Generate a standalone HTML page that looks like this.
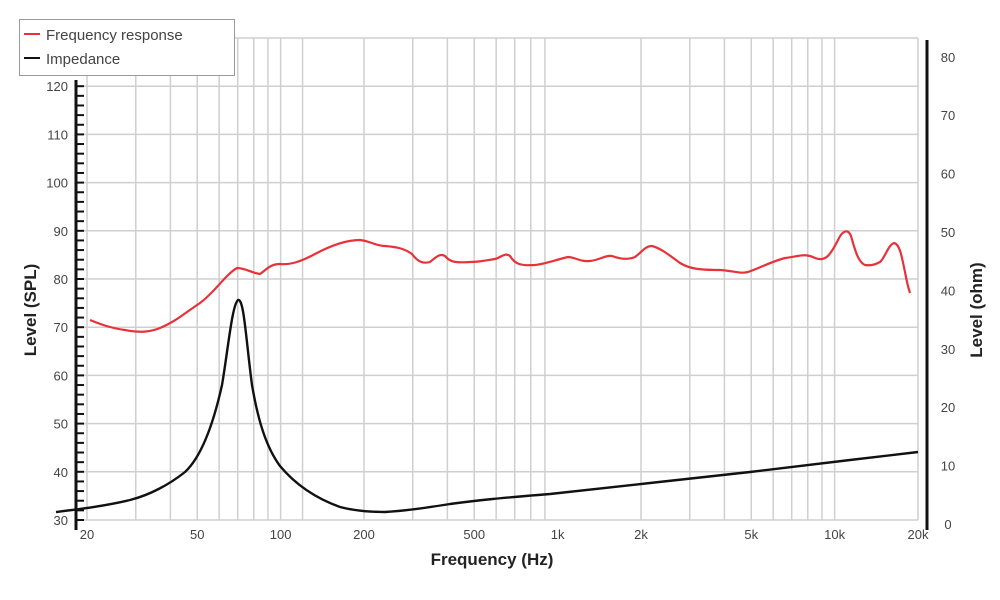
<!DOCTYPE html>
<html><head><style>body{margin:0;background:#fff}svg{display:block}</style></head><body>
<svg width="1000" height="600" xmlns="http://www.w3.org/2000/svg" font-family="Liberation Sans, sans-serif">
<g stroke="#cfcfcf" stroke-width="1.5" id="grid"></g>
<g id="axes"></g>
<path fill="none" stroke="#e8323a" stroke-width="2.2" stroke-linejoin="round" d="M90,320 C100,324 110,328 125,330 C140,333 150,332 160,328 C175,322 185,313 200,303 C215,292 225,275 237,268 C245,268 252,273 260,274 C266,270 270,264 280,264 C290,265 300,262 315,254 C330,246 345,240 360,240 C370,241 376,246 385,246 C398,247 405,249 412,254 C418,262 423,264 430,262 C436,257 440,253 445,256 C450,262 455,263 470,262 C480,262 488,260 495,259 C500,258 505,252 510,256 C515,264 520,266 535,265 C545,264 555,260 568,257 C575,257 580,262 590,261 C600,260 605,255 612,256 C620,259 628,260 635,257 C642,252 645,246 652,246 C660,248 668,254 680,263 C690,269 700,270 720,270 C735,271 740,274 748,272 C760,268 770,262 785,258 C800,256 805,253 815,258 C825,262 830,256 838,240 C842,231 848,228 851,236 C855,250 858,262 865,265 C872,266 876,264 880,262 C885,258 888,245 894,243 C900,244 902,258 905,272 C907,283 909,290 910,293"/>
<path fill="none" stroke="#111" stroke-width="2.4" stroke-linejoin="round" d="M56,512 C80,509 105,506 130,500 C150,495 170,484 185,472 C200,458 212,430 222,385 C228,350 232,305 238,300 C244,298 246,340 252,385 C258,420 266,447 280,466 C295,484 315,498 340,507 C355,511 370,512 385,512 C405,511 425,508 450,504 C480,500 500,498 550,494 L650,483 L750,472 L850,460 L918,452"/>
<rect x="19.5" y="19.5" width="215" height="56" fill="#fff" stroke="#999" stroke-width="1"/>
<line x1="24" y1="34" x2="40" y2="34" stroke="#e8323a" stroke-width="2"/>
<line x1="24" y1="58" x2="40" y2="58" stroke="#111" stroke-width="2"/>
<text x="46" y="40" font-size="15" fill="#444">Frequency response</text>
<text x="46" y="64" font-size="15" fill="#444">Impedance</text>
<text x="492" y="565" font-size="17" font-weight="bold" text-anchor="middle" fill="#222">Frequency (Hz)</text>
<text transform="translate(36,310) rotate(-90)" font-size="17" font-weight="bold" text-anchor="middle" fill="#222">Level (SPL)</text>
<text transform="translate(982,310) rotate(-90)" font-size="17" font-weight="bold" text-anchor="middle" fill="#222">Level (ohm)</text>
<script>
var NS="http://www.w3.org/2000/svg";
function el(p,t,a,txt){var e=document.createElementNS(NS,t);for(var k in a)e.setAttribute(k,a[k]);if(txt!==undefined)e.textContent=txt;p.appendChild(e);return e;}
var g=document.getElementById('grid'),ax=document.getElementById('axes');
function X(f){return 87+277*Math.log10(f/20);}
var fs=[20,30,40,50,60,70,80,90,100,120];
[100,1000].forEach(function(d){for(var m=2;m<=9;m++)fs.push(m*d);});
fs.push(10000,20000);
fs.forEach(function(f){var x=X(f);el(g,'line',{x1:x,y1:38,x2:x,y2:520});});
for(var v=30;v<=120;v+=10){var y=520-(v-30)*48.2/10;el(g,'line',{x1:76,y1:y,x2:918,y2:y});
 el(ax,'text',{x:68,y:y+5,'font-size':13,'text-anchor':'end',fill:'#444'},v);}
el(g,'line',{x1:76,y1:38,x2:918,y2:38});
el(ax,'line',{x1:76,y1:80,x2:76,y2:530,stroke:'#111','stroke-width':3});
for(var v=30;v<=121;v+=2){var y=520-(v-30)*4.82;el(ax,'line',{x1:76,y1:y,x2:84,y2:y,stroke:'#111','stroke-width':2});}
el(ax,'line',{x1:927,y1:40,x2:927,y2:530,stroke:'#111','stroke-width':3});
for(var o=0;o<=80;o+=10){var y=524-o*5.84;el(ax,'text',{x:948,y:y+5,'font-size':13,'text-anchor':'middle',fill:'#444'},o);}
[[20,'20'],[50,'50'],[100,'100'],[200,'200'],[500,'500'],[1000,'1k'],[2000,'2k'],[5000,'5k'],[10000,'10k'],[20000,'20k']].forEach(function(a){
 el(ax,'text',{x:X(a[0]),y:539,'font-size':13,'text-anchor':'middle',fill:'#444'},a[1]);});
</script>
</svg>
</body></html>
